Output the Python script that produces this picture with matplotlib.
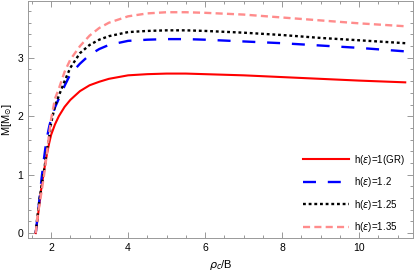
import numpy as np
import matplotlib.pyplot as plt
from matplotlib.ticker import MultipleLocator

plt.rcParams['font.family'] = ['Liberation Sans', 'DejaVu Sans']

# central density rho_c/B
rho = [1.6, 1.65, 1.7, 1.75, 1.8, 1.85, 1.9, 1.95, 2.0, 2.1, 2.2, 2.35, 2.5, 2.75,
       3.0, 3.25, 3.5, 4.0, 4.5, 5.0, 5.5, 6.0, 7.0, 8.0, 9.0, 10.0, 11.2]

# mass in solar masses for each h(eps)
m_gr = [0.0, 0.25, 0.52, 0.79, 1.0, 1.2, 1.38, 1.54, 1.68, 1.86, 2.0, 2.16, 2.28, 2.43,
        2.53, 2.59, 2.64, 2.70, 2.72, 2.73, 2.73, 2.72, 2.70, 2.67, 2.64, 2.61, 2.58]
m_12 = [0.0, 0.3, 0.6, 0.92, 1.2, 1.45, 1.66, 1.82, 1.95, 2.15, 2.3, 2.52, 2.72, 2.9,
        3.05, 3.15, 3.22, 3.29, 3.31, 3.32, 3.32, 3.31, 3.28, 3.25, 3.21, 3.17, 3.11]
m_125 = [0.0, 0.32, 0.58, 0.8, 1.0, 1.22, 1.45, 1.65, 1.88, 2.18, 2.35, 2.6, 2.83, 3.08,
         3.22, 3.31, 3.37, 3.44, 3.46, 3.47, 3.47, 3.46, 3.43, 3.39, 3.34, 3.30, 3.25]
m_135 = [0.0, 0.3, 0.5, 0.7, 0.92, 1.15, 1.42, 1.7, 1.95, 2.3, 2.47, 2.76, 2.97, 3.2,
         3.38, 3.51, 3.6, 3.71, 3.76, 3.78, 3.78, 3.77, 3.74, 3.69, 3.64, 3.59, 3.54]

labels = [r'h($\varepsilon$)=1(GR)', r'h($\varepsilon$)=1.2',
          r'h($\varepsilon$)=1.25', r'h($\varepsilon$)=1.35']

fig = plt.figure(figsize=(4.15, 2.73), dpi=100)
ax = fig.add_axes([0.0675, 0.128, 0.9275, 0.870])

ax.plot(rho, m_gr, color='#ff0000', lw=1.5, label=labels[0])
ax.plot(rho, m_12, color='#0000ff', lw=1.7, dashes=(5.5, 5.0), label=labels[1])
ax.plot(rho, m_125, color='black', lw=1.7, dashes=(1.2, 1.2), label=labels[2])
ax.plot(rho, m_135, color='#ff8c8c', lw=1.7, dashes=(3.0, 1.8), label=labels[3])

ax.set_xlim(1.4, 11.4)
ax.set_ylim(-0.085, 3.98)
ax.xaxis.set_major_locator(MultipleLocator(2))
ax.xaxis.set_minor_locator(MultipleLocator(0.5))
ax.yaxis.set_major_locator(MultipleLocator(1))
ax.yaxis.set_minor_locator(MultipleLocator(0.2))
ax.tick_params(which='both', direction='in', top=True, right=True,
               colors='#888888', labelcolor='black', labelsize=7.5, width=0.6)
ax.tick_params(which='major', length=4)
ax.tick_params(which='minor', length=2.2)
for s in ax.spines.values():
    s.set_color('#999999')
    s.set_linewidth(0.7)

ax.set_xlabel(r'$\rho_c$/B', fontsize=8, labelpad=4)
ax.set_ylabel(r'M[M$_{\odot}$]', fontsize=8)
ax.yaxis.set_label_coords(-0.036, 0.5)

ax.legend(loc='lower right', bbox_to_anchor=(0.988, 0.0), frameon=False, fontsize=7,
          handlelength=4.7, handletextpad=0.5, labelspacing=0.87, borderaxespad=0.0)

fig.savefig('out.png', dpi=100)
